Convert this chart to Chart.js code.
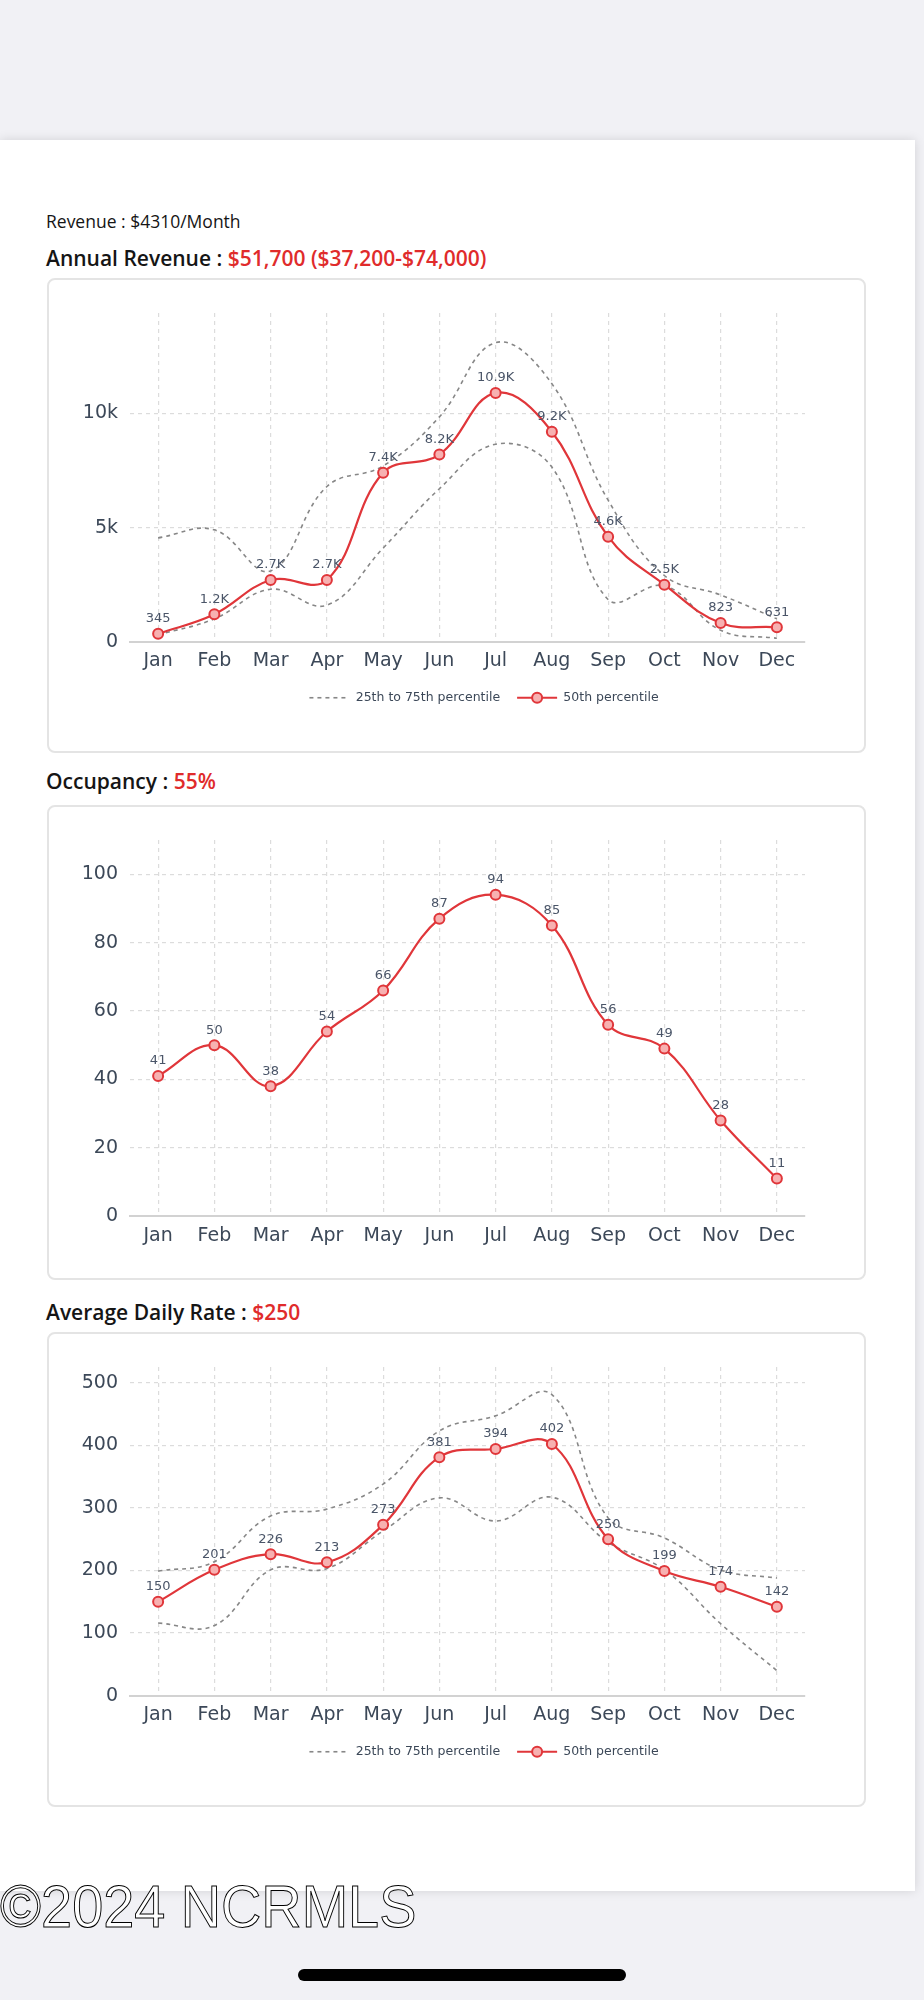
<!DOCTYPE html>
<html>
<head>
<meta charset="utf-8">
<script src="https://cdn.jsdelivr.net/npm/chart.js@4.4.1/dist/chart.umd.min.js"></script>
<style>
  body { margin: 0; width: 924px; height: 2000px; background: #f1f1f5; position: relative; overflow: hidden; font-family: "Open Sans", sans-serif; }
  .panel { position: absolute; left: 0; top: 140px; width: 915px; height: 1751px; background: #fff; box-shadow: 0 0 10px rgba(0,0,0,0.13); }
  .title { position: absolute; left: 46px; color: #151515; white-space: nowrap; }
  .title .red { color: #e02b2b; }
  .small { top: 210px; font-size: 17.5px; line-height: 22px; }
  .big { font-size: 21px; line-height: 26px; font-weight: 600; }
  .card { position: absolute; left: 47px; width: 819px; height: 475px; box-sizing: border-box; border: 2px solid #e4e4e4; border-radius: 8px; background: #fff; }
  .card div { position: absolute; left: 0; top: 0; width: 815px; height: 471px; }
  .mark { position: absolute; left: 0; top: 1877px; font-family: "Liberation Sans", sans-serif; font-size: 60px; line-height: 60px; color: #fff; -webkit-text-stroke: 1px #000; transform: scaleX(0.93); transform-origin: left top; white-space: nowrap; }
  .home { position: absolute; left: 298px; top: 1969px; width: 328px; height: 12px; border-radius: 6px; background: #000; }
</style>
</head>
<body>
<div class="panel"></div>
<div class="title small">Revenue : $4310/Month</div>
<div class="title big" style="top:245px">Annual Revenue : <span class="red">$51,700 ($37,200-$74,000)</span></div>
<div class="card" style="top:278px"><div><canvas id="revenueChart"></canvas></div></div>
<div class="title big" style="top:768px">Occupancy : <span class="red">55%</span></div>
<div class="card" style="top:805px"><div><canvas id="occupancyChart"></canvas></div></div>
<div class="title big" style="top:1299px">Average Daily Rate : <span class="red">$250</span></div>
<div class="card" style="top:1332px"><div><canvas id="adrChart"></canvas></div></div>
<div class="mark">©2024 NCRMLS</div>
<div class="home"></div>

<script>
const months = ['Jan', 'Feb', 'Mar', 'Apr', 'May', 'Jun', 'Jul', 'Aug', 'Sep', 'Oct', 'Nov', 'Dec'];

// Revenue per month
const revenueP50 = [345, 1200, 2700, 2700, 7400, 8200, 10900, 9200, 4600, 2500, 823, 631];
const revenueP75 = [4550, 4900, 3100, 6800, 7700, 9850, 13100, 11300, 6200, 2900, 2050, 1000];
const revenueP25 = [300, 1000, 2300, 1600, 4100, 6700, 8650, 7650, 1850, 2450, 500, 150];
const revenueTicks = [0, 5000, 10000];

// Occupancy %
const occupancyP50 = [41, 50, 38, 54, 66, 87, 94, 85, 56, 49, 28, 11];
const occupancyTicks = [0, 20, 40, 60, 80, 100];

// Average daily rate
const adrP50 = [150, 201, 226, 213, 273, 381, 394, 402, 250, 199, 174, 142];
const adrP75 = [199, 214, 287, 298, 338, 423, 447, 481, 284, 252, 201, 188];
const adrP25 = [116, 112, 201, 203, 263, 316, 279, 317, 245, 201, 115, 40];
const adrTicks = [0, 100, 200, 300, 400, 500];

const RED = '#e0363a';
const PINK = '#f7b1b1';
const GREY = '#878787';
const TEXT = '#3c4858';
const GRID = '#dcdcdc';

// values written above the 50th percentile points
const pointValues = {
    id: 'pointValues',
    afterDatasetsDraw(chart, args, opts) {
        const ctx = chart.ctx;
        chart.data.datasets.forEach((ds, i) => {
            if (!ds.showValues) return;
            const meta = chart.getDatasetMeta(i);
            ctx.save();
            ctx.font = '13px "DejaVu Sans"';
            ctx.fillStyle = '#4a5568';
            ctx.textAlign = 'center';
            ctx.textBaseline = 'middle';
            meta.data.forEach((pt, j) => ctx.fillText(opts.format(ds.data[j]), pt.x, pt.y - 15));
            ctx.restore();
        });
    }
};

// legend sits a bit right of the plot centre in the original; symbols drawn by hand
const legendMarker = {
    id: 'legendMarker',
    afterLayout(chart, args, opts) {
        const lg = chart.legend;
        if (!lg || !lg.options.display) return;
        const shift = opts.center - (lg.left + lg.right) / 2;
        lg.left += shift;
        lg.right += shift;
        lg.top += opts.dy;
        lg.bottom += opts.dy;
    },
    afterDraw(chart) {
        const lg = chart.legend;
        if (!lg || !lg.options.display || !lg.legendHitBoxes) return;
        const ctx = chart.ctx;
        lg.legendItems.forEach((item, k) => {
            const ds = chart.data.datasets[item.datasetIndex];
            const hb = lg.legendHitBoxes[k];
            const cy = hb.top + hb.height / 2;
            ctx.save();
            ctx.beginPath();
            ctx.setLineDash(ds.borderDash || []);
            ctx.moveTo(hb.left, cy);
            ctx.lineTo(hb.left + 40, cy);
            ctx.lineWidth = ds.borderWidth;
            ctx.strokeStyle = ds.borderColor;
            ctx.stroke();
            if (ds.showValues) {
                ctx.setLineDash([]);
                ctx.beginPath();
                ctx.arc(hb.left + 20, cy, 5, 0, Math.PI * 2);
                ctx.fillStyle = PINK;
                ctx.fill();
                ctx.lineWidth = 2;
                ctx.strokeStyle = RED;
                ctx.stroke();
            }
            ctx.restore();
        });
    }
};

function median(data) {
    return {
        label: '50th percentile', data, showValues: true, order: 0,
        borderColor: RED, borderWidth: 2.2, tension: 0.4,
        pointRadius: 5, pointBackgroundColor: PINK, pointBorderColor: RED, pointBorderWidth: 2
    };
}

function band(data, label) {
    return {
        label, data, order: 1,
        borderColor: GREY, borderWidth: 1.6, borderDash: [4, 4], tension: 0.4, pointRadius: 0
    };
}

function makeChart(id, datasets, yMax, yTicks, tickFmt, valueFmt, showLegend, padBottom) {
    new Chart(document.getElementById(id), {
        type: 'line',
        data: { labels: months, datasets },
        options: {
            responsive: true,
            maintainAspectRatio: false,
            animation: false,
            layout: { padding: { left: 21, right: 59, top: 33, bottom: padBottom } },
            plugins: {
                tooltip: { enabled: false },
                pointValues: { format: valueFmt },
                legendMarker: { center: 435, dy: -6 },
                legend: {
                    display: showLegend,
                    position: 'bottom',
                    labels: {
                        usePointStyle: true,
                        pointStyleWidth: 40,
                        padding: 17,
                        color: TEXT,
                        font: { family: 'DejaVu Sans', size: 12.5 },
                        filter: item => item.text !== '',
                        sort: (a, b) => a.datasetIndex - b.datasetIndex,
                        generateLabels: chart => Chart.defaults.plugins.legend.labels.generateLabels(chart)
                            .map(l => Object.assign(l, { pointStyle: 'line', lineWidth: 0, strokeStyle: 'rgba(0,0,0,0)' }))
                    }
                }
            },
            scales: {
                x: {
                    offset: true,
                    grid: { offset: false, color: GRID, lineWidth: 1.2, drawTicks: false },
                    border: { display: true, color: '#d2d2d2', width: 2, dash: [4, 4] },
                    ticks: { color: TEXT, font: { family: 'DejaVu Sans', size: 19 }, padding: 8 }
                },
                y: {
                    min: 0,
                    max: yMax,
                    afterBuildTicks: s => { s.ticks = yTicks.map(v => ({ value: v })); },
                    afterFit: s => { s.width = 60; },
                    grid: { color: c => (c.tick && c.tick.value === 0) ? 'rgba(0,0,0,0)' : GRID, lineWidth: 1.2, drawTicks: false },
                    border: { display: false, dash: [4, 4] },
                    ticks: { color: TEXT, font: { family: 'DejaVu Sans', size: 19 }, padding: 12, callback: tickFmt }
                }
            }
        },
        plugins: [pointValues, legendMarker]
    });
}

const kFmt = v => v >= 1000 ? (v / 1000).toFixed(1) + 'K' : String(v);

makeChart('revenueChart',
    [band(revenueP75, '25th to 75th percentile'), band(revenueP25, ''), median(revenueP50)],
    14400, revenueTicks, v => v === 0 ? '0' : (v / 1000) + 'k', kFmt, true, 31);

makeChart('occupancyChart',
    [median(occupancyP50)],
    110, occupancyTicks, v => String(v), v => String(v), false, 23);

makeChart('adrChart',
    [band(adrP75, '25th to 75th percentile'), band(adrP25, ''), median(adrP50)],
    525, adrTicks, v => String(v), v => String(v), true, 31);
</script>
</body>
</html>
